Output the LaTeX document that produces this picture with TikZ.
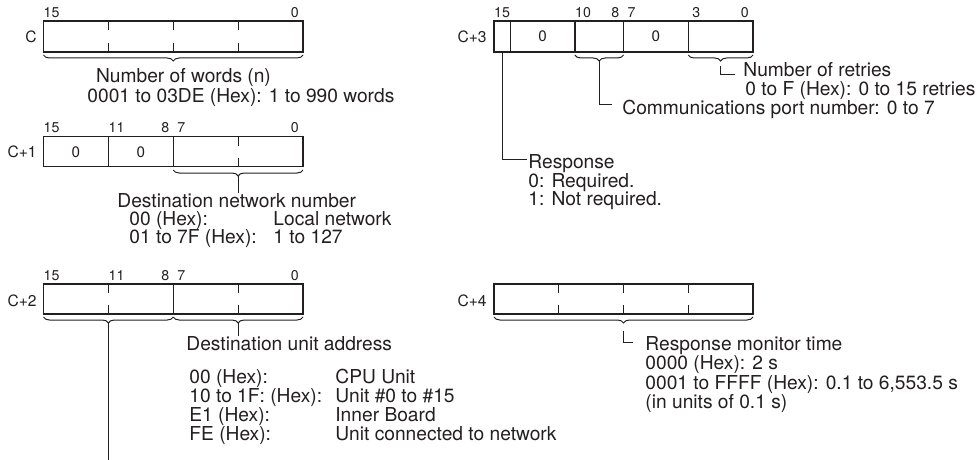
\documentclass[tikz,border=0pt]{standalone}
\usepackage{fontspec}
\setmainfont{TeX Gyre Heros}
\usepackage{xcolor}
\usepackage{tikz}
\usetikzlibrary{decorations.pathreplacing}
\definecolor{wink}{HTML}{231F20}

\begin{document}
\begin{tikzpicture}[x=0.5pt,y=-0.5pt,
  every node/.style={text=wink,inner sep=0pt},
  regbox/.style={draw=wink,line width=0.6pt},
  lead/.style={draw=wink,line width=0.5pt},
  grp/.style={draw=wink,line width=0.5pt,decorate,decoration={brace,mirror,amplitude=3pt}},
  bitno/.style={font=\fontsize{7.1}{8}\selectfont,anchor=base},
  regname/.style={font=\fontsize{7.8}{9}\selectfont,anchor=east},
  cellval/.style={font=\fontsize{7.6}{9}\selectfont},
  desc/.style={font=\fontsize{9.6}{11}\selectfont,anchor=base west}]
  \useasboundingbox (0,0) rectangle (979,460);

  % word C: number of words
  \draw[regbox] (43.5,21) rectangle (303,52);
  \draw[regbox] (108.4,21) -- +(0,9) (108.4,52) -- +(0,-9);
  \draw[regbox] (173.25,21) -- +(0,9) (173.25,52) -- +(0,-9);
  \draw[regbox] (238.1,21) -- +(0,9) (238.1,52) -- +(0,-9);
  \node[regname] (nC) at (37,36.5) {C};
  \node[bitno] (bC15) at (51.6,17.5) {15};
  \node[bitno] (bC0) at (294.9,17.5) {0};
  \draw[grp] (43.5,55) -- (303,55);
  \node[desc,anchor=base] (nwords) at (183.5,83) {Number of words (n)};
  \node[desc] (nrange) at (87,102.5) {0001 to 03DE (Hex): 1 to 990 words};

  % word C+1: destination network
  \draw[regbox] (43.5,136.7) rectangle (303,166.7);
  \draw[regbox] (108.4,136.7) -- (108.4,166.7) (173.25,136.7) -- (173.25,166.7);
  \draw[regbox] (238.1,136.7) -- +(0,9) (238.1,166.7) -- +(0,-9);
  \node[regname] (nC1) at (37,152) {C+1};
  \node[bitno] (bD15) at (51.6,133) {15};
  \node[bitno] (bD11) at (116.5,133) {11};
  \node[bitno] (bD8) at (165.2,133) {8};
  \node[bitno] (bD7) at (181.4,133) {7};
  \node[bitno] (bD0) at (294.9,133) {0};
  \node[cellval] (vD1) at (75.9,152) {0};
  \node[cellval] (vD2) at (140.8,152) {0};
  \draw[grp] (173.25,170) -- (303,170);
  \coordinate (tipD) at (238.1,176);
  \node[desc] (dnet) at (117,207.5) {Destination network number};
  \node[desc] (dnet1) at (129,225) {00 (Hex):};
  \node[desc] (dnet1v) at (273,225) {Local network};
  \node[desc] (dnet2) at (129,243) {01 to 7F (Hex):};
  \node[desc] (dnet2v) at (273,243) {1 to 127};
  \draw[lead] (tipD) -- (tipD |- dnet.north);

  % word C+2: destination unit
  \draw[regbox] (43.5,284) rectangle (303,314);
  \draw[regbox] (173.25,284) -- (173.25,314);
  \draw[regbox] (108.4,284) -- +(0,9) (108.4,314) -- +(0,-9);
  \draw[regbox] (238.1,284) -- +(0,9) (238.1,314) -- +(0,-9);
  \node[regname] (nC2) at (37,300.5) {C+2};
  \node[bitno] (bU15) at (51.6,280.5) {15};
  \node[bitno] (bU11) at (116.5,280.5) {11};
  \node[bitno] (bU8) at (165.2,280.5) {8};
  \node[bitno] (bU7) at (181.4,280.5) {7};
  \node[bitno] (bU0) at (294.9,280.5) {0};
  \draw[grp] (43.5,317) -- (173.25,317);
  \draw[grp] (173.25,317) -- (303,317);
  \coordinate (tipU1) at (108.4,323);
  \coordinate (tipU2) at (238.1,323);
  \coordinate (cutU) at (108.4,460);
  \draw[lead] (tipU1) -- (cutU);
  \node[desc] (dunit) at (186,350) {Destination unit address};
  \node[desc] (du1) at (189,383) {00 (Hex):};
  \node[desc] (du2) at (189,402.5) {10 to 1F: (Hex):};
  \node[desc] (du3) at (189,421.5) {E1 (Hex):};
  \node[desc] (du4) at (189,440) {FE (Hex):};
  \node[desc] (du1v) at (335,383) {CPU Unit};
  \node[desc] (du2v) at (335,402.5) {Unit \#0 to \#15};
  \node[desc] (du3v) at (335,421.5) {Inner Board};
  \node[desc] (du4v) at (335,440) {Unit connected to network};
  \draw[lead] (tipU2) -- (tipU2 |- dunit.north);

  % word C+3: response, port, retries
  \draw[regbox] (494,21) rectangle (753,52);
  \draw[regbox] (510.2,21) -- (510.2,52) (574.9,21) -- (574.9,52)
    (623.5,21) -- (623.5,52) (688.25,21) -- (688.25,52);
  \node[regname] (nC3) at (487,36.5) {C+3};
  \node[bitno] (bR15) at (502.1,17.5) {15};
  \node[bitno] (bR10) at (583.1,17.5) {10};
  \node[bitno] (bR8) at (615.4,17.5) {8};
  \node[bitno] (bR7) at (631.6,17.5) {7};
  \node[bitno] (bR3) at (696.4,17.5) {3};
  \node[bitno] (bR0) at (744.9,17.5) {0};
  \node[cellval] (vR1) at (542.5,36.5) {0};
  \node[cellval] (vR2) at (655.9,36.5) {0};
  \draw[grp] (574.9,55) -- (623.5,55);
  \draw[grp] (688.25,55) -- (753,55);
  \coordinate (bit15) at (502.1,52);
  \coordinate (tipP) at (599.2,61);
  \coordinate (tipN) at (720.6,61);
  \node[desc] (retr) at (743,76) {Number of retries};
  \node[desc] (retr1) at (745,95.5) {0 to F (Hex): 0 to 15 retries};
  \node[desc] (port) at (622,115) {Communications port number: 0 to 7};
  \node[desc] (resp) at (528,168) {Response};
  \node[desc] (resp0) at (528,187) {0: Required.};
  \node[desc] (resp1) at (528,205) {1: Not required.};
  \draw[lead] ([yshift=-2.5pt]tipN) |- ([xshift=-4pt,yshift=0.5pt]retr.base west);
  \draw[lead] (tipP) |- ([xshift=-5pt,yshift=5pt]port.base west);
  \draw[lead] (bit15) |- ([xshift=-0.5pt,yshift=4.5pt]resp.base west);

  % word C+4: response monitor time
  \draw[regbox] (494,284) rectangle (753,314);
  \draw[regbox] (558.75,284) -- +(0,9) (558.75,314) -- +(0,-9);
  \draw[regbox] (623.5,284) -- +(0,9) (623.5,314) -- +(0,-9);
  \draw[regbox] (688.25,284) -- +(0,9) (688.25,314) -- +(0,-9);
  \node[regname] (nC4) at (487,300.5) {C+4};
  \draw[grp] (494,317) -- (753,317);
  \coordinate (tipM) at (623.5,323);
  \node[desc] (rmt) at (645,350) {Response monitor time};
  \node[desc] (rmt1) at (645,369.5) {0000 (Hex): 2 s};
  \node[desc] (rmt2) at (645,389) {0001 to FFFF (Hex): 0.1 to 6,553.5 s};
  \node[desc] (rmt3) at (645,408) {(in units of 0.1 s)};
  \draw[lead] ([yshift=-4pt]tipM) |- ([xshift=-6pt,yshift=4pt]rmt.base west);
\end{tikzpicture}
\end{document}
